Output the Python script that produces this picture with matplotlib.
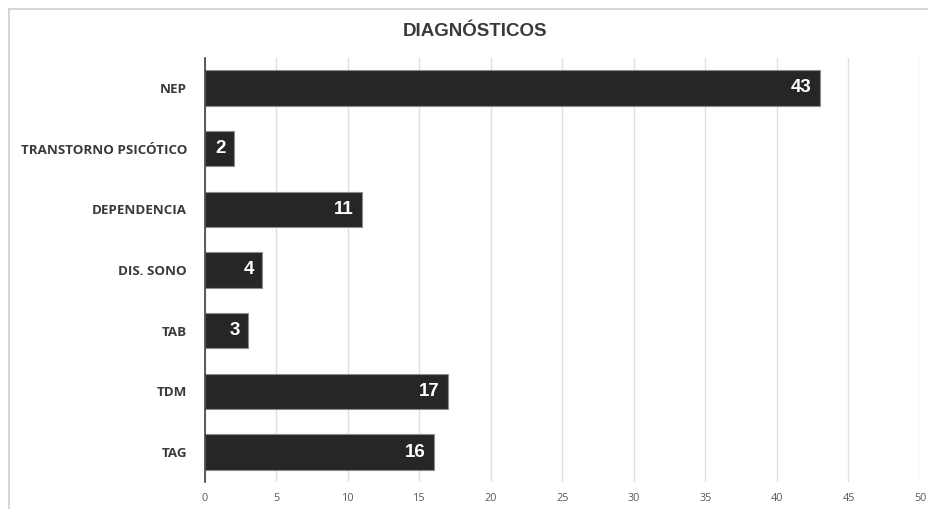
import matplotlib
matplotlib.use("Agg")
import matplotlib.pyplot as plt
from matplotlib.lines import Line2D

categories = ["NEP", "TRANSTORNO PSICÓTICO", "DEPENDENCIA", "DIS. SONO", "TAB", "TDM", "TAG"]
values = [43, 2, 11, 4, 3, 17, 16]
xticks = [0, 5, 10, 15, 20, 25, 30, 35, 40, 45, 50]

fig = plt.figure(figsize=(9.29, 5.09), dpi=100)
fig.patch.set_facecolor("white")
ax = fig.add_axes([205/929, 1-482.4/509, (920-205)/929, (482.4-57.6)/509])

y = list(range(len(categories)))
ax.barh(y, values, height=0.58, color="#262626", edgecolor="#8c8c8c", linewidth=0.8, zorder=3)
ax.set_ylim(len(categories)-0.5, -0.5)
ax.set_xlim(0, 50)
ax.set_xticks(xticks)
ax.set_xticklabels([str(t) for t in xticks], fontsize=7.8, color="#595959", family="Open Sans")
ax.set_yticks(y)
ax.set_yticklabels(categories, fontsize=9.6, color="#3a3a3a", family="Open Sans", fontweight="bold")
ax.tick_params(axis="x", length=0, pad=7.5)
ax.tick_params(axis="y", length=0, pad=13)
ax.grid(axis="x", color="#e0e0e0", linewidth=1.0, zorder=0)
for s in ["top", "right", "bottom"]:
    ax.spines[s].set_visible(False)
ax.spines["left"].set_color("#404040")
ax.spines["left"].set_linewidth(1.2)
ax.spines["left"].set_zorder(4)

for yi, v in zip(y, values):
    ax.annotate(str(v), xy=(v, yi), xytext=(-6, 0), textcoords="offset points",
                ha="right", va="center", color="white", fontsize=13.5,
                fontweight="bold", family="Liberation Sans", zorder=5)

fig.text(475/929, 1-31/509, "DIAGNÓSTICOS", ha="center", va="center",
         fontsize=13.5, fontweight="bold", color="#3a3a3a", family="Liberation Sans")

fig.add_artist(Line2D([9/929, 9/929], [0, 1-9/509], transform=fig.transFigure, color="#d0d0d0", linewidth=1.2))
fig.add_artist(Line2D([9/929, 928/929], [1-9/509, 1-9/509], transform=fig.transFigure, color="#d0d0d0", linewidth=1.2))

fig.savefig("out.png", dpi=100)
